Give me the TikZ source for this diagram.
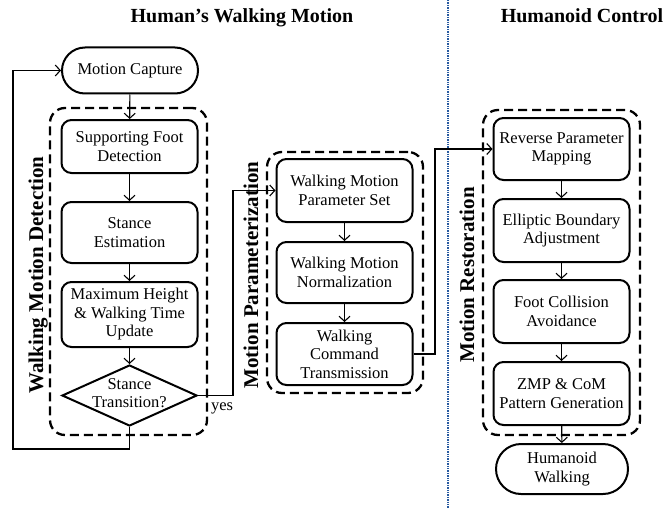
\documentclass[tikz,border=0pt]{standalone}
\usepackage{fontspec}
\setmainfont{Liberation Serif}
\usetikzlibrary{arrows.meta,shapes.geometric}
\definecolor{sepblue}{RGB}{40,90,160}
\begin{document}
\begin{tikzpicture}[x=1pt,y=-1pt,
  txt/.style={font=\fontsize{16.5}{18.5}\selectfont, align=center},
  proc/.style={txt, draw, line width=2pt, rounded corners=10pt,
    minimum width=136pt, inner sep=0pt},
  term/.style={txt, draw, line width=2pt, inner sep=0pt},
  grp/.style={draw, line width=2.3pt, dash pattern=on 9pt off 5pt,
    rounded corners=15pt, inner sep=0pt},
  head/.style={font=\fontsize{20}{22}\selectfont\bfseries, anchor=base},
  side/.style={font=\fontsize{21}{23}\selectfont\bfseries, rotate=90, anchor=base},
  conn/.style={draw, line width=1.1pt,
    -{Straight Barb[length=5pt,width=11pt,line width=1.1pt]}},
  link/.style={draw, line width=1.1pt}]

\useasboundingbox (0,0) rectangle (668,508);

% column headings and the separator
\node[head] (h1) at (242,23) {Human’s Walking Motion};
\node[head] (h2) at (582,23) {Humanoid Control};
\draw[sepblue, line width=2pt, dash pattern=on 1.4pt off 1pt] (448,0) -- (448,508);

% dashed stage groups
\node[grp, minimum width=157pt, minimum height=327pt] (g1) at (128.5,271.5) {};
\node[grp, minimum width=156pt, minimum height=241pt] (g2) at (345,272.5) {};
\node[grp, minimum width=157pt, minimum height=325pt] (g3) at (561.5,272.5) {};

% stage titles
\node[side] (s1) at (43,275) {Walking Motion Detection};
\node[side] (s2) at (258,275) {Motion Parameterization};
\node[side] (s3) at (474,275) {Motion Restoration};

% walking motion detection
\node[term, minimum width=136pt, minimum height=46pt, rounded corners=23pt]
  (mc) at (130,70.5) {Motion Capture};
\node[proc, minimum height=53pt] (sfd) at (129.5,146.5) {Supporting Foot\\Detection};
\node[proc, minimum height=61pt] (se) at (129.5,232.5) {Stance\\Estimation};
\node[proc, minimum height=65pt] (mh) at (129.5,314.5) {Maximum Height\\\& Walking Time\\Update};
\node[diamond, draw, line width=2pt, minimum width=135pt, minimum height=61pt,
  inner sep=0pt] (st) at (129.5,395.5) {};
\node[txt] (stt) at (129.5,393) {Stance\\Transition?};
\node[txt, anchor=base] (yes) at (222,410) {yes};

% motion parameterization
\node[proc, minimum height=63pt] (wmp) at (344.5,190.5) {Walking Motion\\Parameter Set};
\node[proc, minimum height=61pt] (wmn) at (344.5,272.5) {Walking Motion\\Normalization};
\node[proc, minimum height=62pt] (wct) at (344.5,354) {Walking\\Command\\Transmission};

% motion restoration
\node[proc, minimum height=62pt] (rpm) at (561.5,149) {Reverse Parameter\\Mapping};
\node[proc, minimum height=63pt] (eba) at (561.5,230.5) {Elliptic Boundary\\Adjustment};
\node[proc, minimum height=63pt] (fca) at (561.5,311.5) {Foot Collision\\Avoidance};
\node[proc, minimum height=63pt] (zmp) at (561.5,393.5) {ZMP \& CoM\\Pattern Generation};
\node[term, minimum width=132pt, minimum height=50pt, rounded corners=25pt]
  (hw) at (562,469) {Humanoid\\Walking};

% flow
\draw[conn] (mc) -- (sfd);
\draw[conn] (sfd) -- (se);
\draw[conn] (se) -- (mh);
\draw[conn] (mh) -- (st);
\coordinate (loopB) at (13,449);
\draw[conn] (st.south) |- (loopB) |- (mc.west);
\coordinate (yesJ) at (233,395.5);
\draw[conn] (st.east) -- (yesJ) |- (wmp.west);
\draw[conn] (wmp) -- (wmn);
\draw[conn] (wmn) -- (wct);
\coordinate (outJ) at (435,354);
\draw[conn] (wct.east) -- (outJ) |- (rpm.west);
\draw[conn] (rpm) -- (eba);
\draw[conn] (eba) -- (fca);
\draw[conn] (fca) -- (zmp);
\draw[conn] (zmp) -- (hw);
\end{tikzpicture}
\end{document}
